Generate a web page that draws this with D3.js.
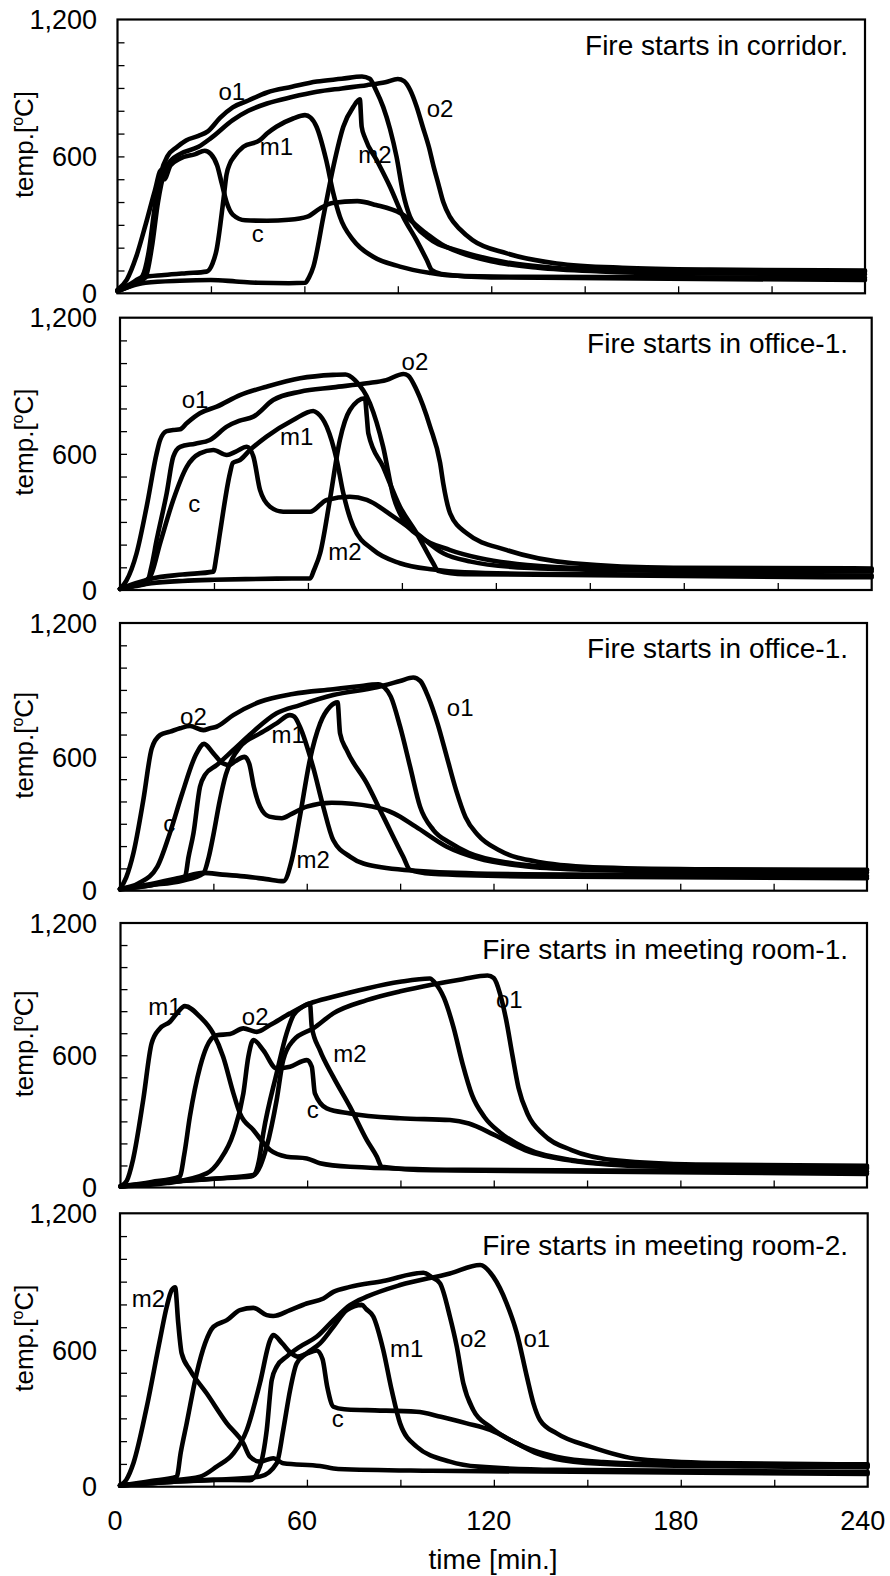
<!DOCTYPE html>
<html>
<head>
<meta charset="utf-8">
<script src="https://cdn.jsdelivr.net/npm/d3@7/dist/d3.min.js"></script>
<style>
  body { margin: 0; background: #fff; }
  text { font-family: "Liberation Sans", Arial, sans-serif; fill: #000; }
</style>
</head>
<body>
<svg width="890" height="1576"></svg>
<script>
// ---- data: [time (min), temperature (C)] ----
var xTickLabels = [0, 60, 120, 180, 240];
var yTickLabels = [0, 600, 1200];
var titles = [
  "Fire starts in corridor.",
  "Fire starts in office-1.",
  "Fire starts in office-1.",
  "Fire starts in meeting room-1.",
  "Fire starts in meeting room-2."
];

// panel 1 : corridor
var p1_c  = [[0,15],[3,60],[6,160],[9,300],[12,450],[14,540],[15,500],[17,560],[20,590],[25,610],[28,625],[30,610],[32,560],[33.5,480],[35,400],[37,345],[41,320],[48,318],[55,322],[61,336],[65,372],[69,396],[77,404],[83,387],[91,350],[99,264],[104,215],[110,178],[120,140],[135,112],[155,96],[180,88],[240,84]];
var p1_o1 = [[0,10],[5,40],[8,75],[10,180],[12,380],[14,530],[16,600],[19,640],[22,670],[26,690],[29,710],[33,770],[37,815],[42,845],[48,880],[56,905],[64,928],[72,940],[78.5,950],[81,940],[83,890],[85.3,817],[87.5,720],[89.6,598],[91.7,438],[93.9,336],[96,290],[99.3,248],[103,215],[107,197],[115,165],[125,135],[140,112],[160,100],[190,96],[240,94]];
var p1_o2 = [[0,10],[5,40],[9,70],[11,200],[13,400],[15,530],[17,580],[20,610],[26,642],[30,680],[37,759],[42,800],[48,832],[56,860],[64,883],[72,898],[80,912],[86,925],[90,939],[92,930],[94,890],[96,820],[98,730],[100,640],[101.5,555],[103,480],[104.6,400],[106.7,336],[110,280],[114,233],[125,175],[141,131],[162,112],[190,104],[240,100]];
var p1_m1 = [[0,10],[4,40],[8,70],[15,80],[22,88],[28.6,95],[30.5,130],[31.8,190],[34,409],[35,520],[36.1,569],[37.5,600],[40.4,642],[45.7,671],[48,700],[51,730],[56.4,766],[60.2,781],[62,770],[63.9,730],[67,584],[69.3,438],[71.4,336],[75.7,233],[82.1,160],[90.7,117],[100,90],[107,78],[130,72],[240,68]];
var p1_m2 = [[0,10],[4,30],[9,46],[20,55],[30,58],[38,52],[45,46],[55,44],[60.2,46],[61.5,70],[62.9,117],[66.1,336],[69.3,555],[72.5,730],[75.7,817],[77.8,850],[78.4,730],[79.5,680],[83.2,584],[87.5,467],[91.7,336],[96,233],[99.3,146],[100.9,102],[104,85],[120,70],[240,58]];

// panel 2 : office-1
var p2_c  = [[0,5],[5,20],[9.6,59],[12.8,206],[17,397],[21.3,543],[25.5,602],[29.8,617],[34.1,595],[37,610],[40.5,631],[42.6,587],[44.7,441],[47.9,367],[52.1,345],[60.7,345],[66,397],[73.4,411],[78.8,397],[87.3,323],[94.7,250],[103.2,162],[112,125],[125,102],[150,90],[190,84],[240,82]];
var p2_o1 = [[0,5],[2,40],[5.3,162],[8.5,367],[11.7,602],[12.8,661],[14.9,700],[17,705],[19.2,708],[21.3,735],[25.5,779],[30.9,808],[38.3,859],[46.8,896],[57.5,933],[68,948],[72,950],[75,925],[79.8,823],[84,632],[87.3,411],[90.5,308],[95.8,235],[105.4,176],[115,140],[130,110],[150,96],[180,92],[240,90]];
var p2_o2 = [[0,5],[4,15],[8.5,29],[10,100],[11.7,220],[14.9,426],[17,587],[19.2,631],[24,645],[28.7,661],[34.1,720],[38,745],[42.6,764],[48.9,837],[57.5,874],[68.1,893],[78.8,911],[85,925],[90.5,952],[92,945],[94.7,881],[99,720],[102.2,560],[103.2,470],[105.4,338],[110.7,250],[123.5,176],[144.7,118],[176.7,98],[240,95]];
var p2_m1 = [[0,5],[5,30],[10,50],[20,68],[29.8,81],[30.8,150],[31.9,250],[35.1,514],[36,560],[38.3,573],[41.5,617],[46.8,676],[55.3,749],[61.7,789],[63,780],[66,720],[69.2,573],[71.3,426],[74.5,279],[80.9,176],[89.4,118],[100,90],[110,78],[140,70],[240,64]];
var p2_m2 = [[0,5],[5,20],[10,30],[20,40],[30,45],[40,48],[50,50],[60.7,51],[62,90],[63.9,162],[67,397],[70.2,661],[73.4,793],[78.2,845],[78.8,764],[79.3,690],[84,543],[89.4,367],[94.7,250],[100,118],[101.5,85],[110,70],[240,56]];

// panel 3 : office-1 (second case)
var p3_c  = [[0,8],[6,33],[12,108],[16,257],[20,437],[24.6,616],[27,658],[30,616],[33,571],[35,563],[37,580],[40,600],[41.5,570],[43,466],[45,377],[48,332],[52,325],[55,343],[60,377],[68,394],[81,377],[88,347],[95,287],[105,197],[115,145],[130,110],[150,94],[180,86],[240,82]];
var p3_o1 = [[0,8],[10,25],[18,50],[20.9,63],[22,150],[23.6,257],[25.7,466],[27.3,519],[31.1,563],[36.4,631],[42.8,713],[50.3,795],[57.8,832],[68.5,877],[82.5,912],[90,940],[94.2,956],[96.5,940],[99,870],[102,750],[105,600],[108,450],[111,330],[115,250],[122,180],[135,128],[155,104],[190,96],[240,94]];
var p3_o2 = [[0,8],[2,60],[4.3,168],[7.5,407],[10.2,638],[12.9,698],[16.1,713],[19.3,728],[22.5,738],[26.8,720],[29,728],[31,735],[36.4,787],[45,847],[55.5,882],[68.5,903],[76,915],[83,925],[85,910],[87,870],[90,735],[93.2,556],[96.4,377],[100.7,272],[106,215],[112,170],[125,125],[145,102],[180,94],[240,90]];
var p3_m1 = [[0,8],[10,25],[20,45],[26.8,78],[28.5,150],[30,250],[32,400],[34,520],[36,590],[38.6,645],[45,705],[50.3,750],[54.6,787],[56,780],[57.8,735],[62,556],[65.3,377],[68.5,227],[74,152],[82.5,108],[100,85],[130,74],[240,66]];
var p3_m2 = [[0,5],[10,30],[20,60],[26.8,80],[33,72],[40.7,63],[47,52],[52.5,43],[55.2,138],[57.8,332],[61,586],[64.3,750],[67.5,825],[69.9,844],[70.7,705],[72.8,631],[79.3,481],[84.6,332],[91,152],[93.2,93],[100,76],[130,64],[240,56]];

// panel 4 : meeting room-1
var p4_c  = [[0,5],[15,20],[27.7,64],[32,125],[36.3,246],[39.5,427],[41.1,593],[42.7,669],[45.9,623],[50.2,540],[54.5,548],[59.9,578],[61.5,548],[62.5,427],[66.3,359],[73.8,336],[89.9,314],[105.9,306],[112,290],[120,240],[130,170],[145,122],[170,96],[240,86]];
var p4_o1 = [[0,5],[15,25],[30,40],[42,50],[45,100],[47,185],[50.2,397],[52.3,578],[55.6,668],[62,722],[68.4,790],[79.2,850],[90,890],[100,920],[110,945],[118,962],[120,950],[122,880],[124,760],[126,600],[128,450],[131,330],[136,240],[145,170],[160,122],[185,104],[240,98]];
var p4_o2 = [[0,5],[10,25],[19,49],[20.5,150],[22.3,321],[25.6,548],[27.7,638],[30.9,691],[35.2,696],[39.5,722],[43.8,706],[48.1,737],[54.5,790],[60.9,835],[68.4,865],[79.2,903],[89.9,933],[99.5,948],[101,930],[104,860],[107,730],[110,560],[113,420],[117,320],[122,250],[130,180],[145,125],[165,102],[200,94],[240,92]];
var p4_m1 = [[0,5],[2,30],[4,125],[7.3,397],[10,654],[12.7,722],[15.9,752],[18.1,790],[20.7,823],[25.6,774],[29.8,699],[33,593],[36.3,427],[38.4,336],[42.7,261],[48.1,170],[53.4,140],[59.9,132],[64.1,110],[73.8,94],[110,80],[240,72]];
var p4_m2 = [[0,5],[20,30],[35,45],[42.7,57],[44.5,120],[45.9,246],[50.2,518],[53.4,699],[55.6,782],[58,815],[60.9,835],[61.5,729],[64.1,623],[68.4,502],[73.8,366],[79.2,215],[82.4,140],[84,94],[100,78],[240,62]];

// panel 5 : meeting room-2
var p5_c  = [[0,5],[15,25],[25.7,44],[31,88],[36.4,146],[40.7,249],[44.9,454],[48.2,644],[49.2,666],[52,630],[55,585],[57,571],[60,585],[63.1,598],[65,560],[66.5,440],[68.5,351],[72,340],[79.2,336],[95.2,329],[103,307],[111.3,278],[118.8,249],[127.4,190],[133.8,146],[145.5,110],[165,96],[240,86]];
var p5_o1 = [[0,5],[15,20],[30,30],[41.7,29],[44.9,88],[47.1,249],[48.7,468],[50.3,527],[53.5,571],[57.8,615],[63.1,658],[68.5,731],[73.8,797],[79.2,834],[89.9,885],[105.9,936],[115.6,973],[119.8,922],[124.1,805],[127.4,673],[130.6,483],[132.7,366],[134.8,293],[140.2,234],[150.9,176],[167,120],[190,104],[240,98]];
var p5_o2 = [[0,5],[10,25],[18.2,44],[19.5,150],[21.4,278],[24.6,497],[27.3,629],[30,702],[34.3,731],[38.5,775],[42.8,785],[47.1,753],[49.2,749],[54.6,775],[59.9,804],[65.3,826],[68.5,855],[73.8,877],[84.5,903],[97.4,939],[100,920],[102.7,893],[105.9,746],[108.1,615],[110.2,454],[113.4,337],[118.8,263],[129.5,176],[140,132],[155,108],[180,96],[240,92]];
var p5_m1 = [[0,5],[15,20],[30,30],[45,45],[50.3,103],[52.4,249],[54.6,424],[56.7,541],[59.9,585],[64.2,629],[68.5,702],[72.8,775],[77.6,798],[79,780],[81.3,747],[84.5,600],[87.2,424],[89.9,278],[95.2,176],[105.9,110],[115,88],[140,74],[240,64]];
var p5_m2 = [[0,5],[2,30],[4.3,103],[8.6,351],[12.8,644],[15,790],[16.6,863],[17.7,875],[18.7,717],[19.8,585],[22.5,512],[27.8,410],[34.3,278],[39.6,190],[41.7,132],[44.9,110],[49.2,125],[52.4,103],[64.2,91],[70,78],[100,70],[240,56]];

// series labels: [name, time of left edge, temperature of baseline]
var p1_labels = [["o1",32.4,847],["o2",99.3,774],["m1",45.7,606],["m2",77.3,569],["c",43.1,226]];
var p2_labels = [["o1",19.7,801],["o2",89.9,970],["m1",51.1,639],["m2",66.5,132],["c",21.8,345]];
var p3_labels = [["o2",19.3,743],["o1",105,783],["m1",48.7,661],["m2",56.7,100],["c",13.9,264]];
var p4_labels = [["m1",8.9,782],["o2",39,737],["m2",68.4,570],["c",59.9,314],["o1",120.7,814]];
var p5_labels = [["m2",3.8,790],["m1",86.7,571],["c",68,263],["o2",109.1,615],["o1",129.5,615]];

// ---- layout ----
var boxes = [
  {x0: 117.5, x1: 865,   y0: 19.5,   y1: 293.3,  title: 35.5},
  {x0: 120,   x1: 871.7, y0: 317.7,  y1: 590,    title: 35},
  {x0: 120,   x1: 867,   y0: 623,    y1: 890.7,  title: 35},
  {x0: 120.5, x1: 867,   y0: 923,    y1: 1187.5, title: 36},
  {x0: 120,   x1: 867.7, y0: 1213.3, y1: 1486.7, title: 42}
];
var panels = [
  {series: [p1_c, p1_o1, p1_o2, p1_m1, p1_m2], labels: p1_labels},
  {series: [p2_c, p2_o1, p2_o2, p2_m1, p2_m2], labels: p2_labels},
  {series: [p3_c, p3_o1, p3_o2, p3_m1, p3_m2], labels: p3_labels},
  {series: [p4_c, p4_o1, p4_o2, p4_m1, p4_m2], labels: p4_labels},
  {series: [p5_c, p5_o1, p5_o2, p5_m1, p5_m2], labels: p5_labels}
];

var svg = d3.select("svg");

panels.forEach(function (p, i) {
  var b = boxes[i];
  var x = d3.scaleLinear([0, 240], [b.x0, b.x1]);
  var y = d3.scaleLinear([0, 1200], [b.y1, b.y0]);
  var g = svg.append("g");

  var line = d3.line()
    .x(function (d) { return x(d[0]); })
    .y(function (d) { return y(d[1]); })
    .curve(d3.curveMonotoneX);

  g.selectAll("path.series").data(p.series).enter().append("path")
    .attr("class", "series")
    .attr("d", line)
    .attr("fill", "none")
    .attr("stroke", "#000")
    .attr("stroke-width", 4.6)
    .attr("stroke-linejoin", "round")
    .attr("stroke-linecap", "round");

  // inside ticks
  var xAxis = g.append("g").attr("transform", "translate(0," + b.y1 + ")")
    .call(d3.axisBottom(x).tickValues(d3.range(30, 240, 30)).tickSize(-7).tickFormat(""));
  var yAxis = g.append("g").attr("transform", "translate(" + b.x0 + ",0)")
    .call(d3.axisLeft(y).tickValues(d3.range(100, 1200, 100)).tickSize(-7).tickFormat(""));
  [xAxis, yAxis].forEach(function (a) {
    a.select(".domain").remove();
    a.selectAll("line").attr("stroke", "#000").attr("stroke-width", 1.3);
  });

  g.append("rect")
    .attr("x", b.x0).attr("y", b.y0)
    .attr("width", b.x1 - b.x0).attr("height", b.y1 - b.y0)
    .attr("fill", "none").attr("stroke", "#000").attr("stroke-width", 2.2);

  // y tick labels
  g.selectAll("text.ytl").data(yTickLabels).enter().append("text")
    .attr("class", "ytl")
    .attr("x", 97).attr("y", function (d) { return y(d); })
    .attr("dy", "0.36em")
    .attr("text-anchor", "end")
    .style("font-size", "27px")
    .text(d3.format(","));

  // y axis title
  var yt = g.append("text")
    .attr("transform", "translate(33," + y(652) + ") rotate(-90)")
    .attr("text-anchor", "middle")
    .style("font-size", "26px");
  yt.append("tspan").text("temp.[");
  yt.append("tspan").attr("dy", -10).style("font-size", "16px").text("o");
  yt.append("tspan").attr("dy", 10).text("C]");

  // panel title
  g.append("text")
    .attr("x", 848).attr("y", b.y0 + b.title)
    .attr("text-anchor", "end")
    .style("font-size", "28px")
    .text(titles[i]);

  // series labels
  g.selectAll("text.lab").data(p.labels).enter().append("text")
    .attr("class", "lab")
    .attr("x", function (d) { return x(d[1]); })
    .attr("y", function (d) { return y(d[2]); })
    .style("font-size", "24px")
    .text(function (d) { return d[0]; });

  if (i === panels.length - 1) {
    g.selectAll("text.xtl").data(xTickLabels).enter().append("text")
      .attr("class", "xtl")
      .attr("x", function (d) { return x(d) - 5; })
      .attr("y", 1530)
      .attr("text-anchor", "middle")
      .style("font-size", "27px")
      .text(function (d) { return d; });
    g.append("text")
      .attr("x", 493).attr("y", 1569)
      .attr("text-anchor", "middle")
      .style("font-size", "28px")
      .text("time [min.]");
  }
});
</script>
</body>
</html>
